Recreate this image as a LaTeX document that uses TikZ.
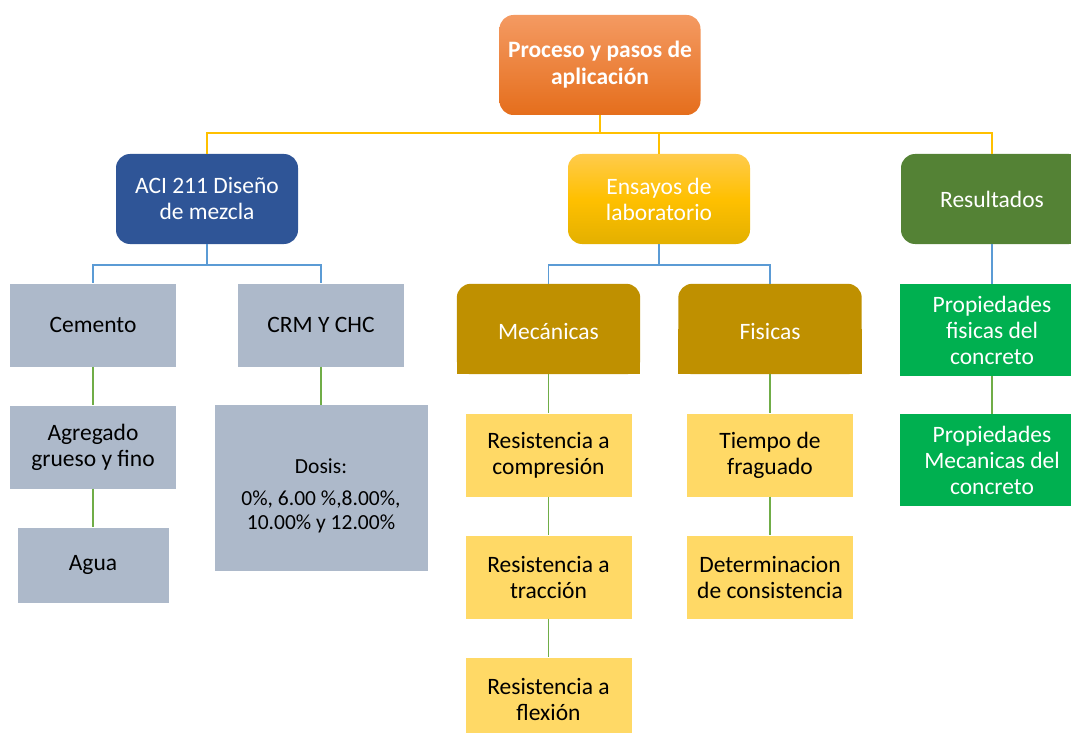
\documentclass[tikz,border=0pt]{standalone}
\usepackage{fontspec}
\setmainfont{Carlito}
\usetikzlibrary{backgrounds}

\definecolor{orangetop}{HTML}{F49A62}
\definecolor{orangebot}{HTML}{E56E1C}
\definecolor{darkblue}{HTML}{2F5597}
\definecolor{goldtop}{HTML}{FFCB4C}
\definecolor{goldmid}{HTML}{FFC000}
\definecolor{goldbot}{HTML}{E3B000}
\definecolor{olive}{HTML}{548235}
\definecolor{darkgold}{HTML}{BF9000}
\definecolor{grayblue}{HTML}{ADB9CA}
\definecolor{lightyellow}{HTML}{FFD966}
\definecolor{brightgreen}{HTML}{00B050}
\definecolor{lineyellow}{HTML}{FFC000}
\definecolor{lineblue}{HTML}{5B9BD5}
\definecolor{linegreen}{HTML}{70AD47}

\tikzstyle{rootbox} = [rectangle, rounded corners=14pt, minimum width=201pt, minimum height=100pt, align=center, text=white, font=\bfseries\fontsize{23.5}{27}\selectfont, top color=orangetop, bottom color=orangebot]
\tikzstyle{headbox} = [rectangle, rounded corners=14pt, minimum width=182pt, minimum height=90pt, align=center, text=white]
\tikzstyle{subbox} = [rectangle, minimum width=183pt, minimum height=90pt, align=center, text=white]
\tikzstyle{graybox} = [rectangle, minimum width=166pt, minimum height=83pt, align=center, fill=grayblue]
\tikzstyle{yellowbox} = [rectangle, minimum width=166pt, minimum height=83pt, align=center, fill=lightyellow]
\tikzstyle{greenbox} = [rectangle, minimum width=184pt, minimum height=92pt, align=center, text=white, fill=brightgreen]
\tikzstyle{yline} = [line width=1.5pt, draw=lineyellow]
\tikzstyle{bline} = [line width=1.5pt, draw=lineblue]
\tikzstyle{gline} = [line width=1.5pt, draw=linegreen]

\begin{document}
\begin{tikzpicture}[x=1pt, y=-1pt, node distance=122pt, every node/.style={font=\fontsize{23.5}{26}\selectfont}]
\useasboundingbox (0,0) rectangle (1071,733);

\node (proc) [rootbox] at (600,65) {Proceso y pasos de\\aplicación};

\node (aci) [headbox, fill=darkblue] at (207,199) {ACI 211 Diseño\\de mezcla};
\node (ens) [headbox, top color=goldtop, bottom color=goldbot, middle color=goldmid] at (659,199) {Ensayos de\\laboratorio};
\node (res) [headbox, fill=olive] at (992,199) {Resultados};

% diseño de mezcla
\node (cem) [graybox] at (93,325) {Cemento};
\node (agr) [graybox, below of=cem] {Agregado\\grueso y fino};
\node (agua) [graybox, below of=agr, yshift=4pt, minimum width=151pt, minimum height=75pt] {Agua};
\node (crm) [graybox] at (321,325) {CRM Y CHC};
\node (dosis) [graybox, below of=crm, yshift=-41pt, minimum width=213pt, minimum height=166pt, font=\fontsize{21.5}{24}\selectfont] {\rule{0pt}{31pt}Dosis:\\[8pt]0\%, 6.00 \%,8.00\%,\\10.00\% y 12.00\%};

% ensayos
\node (mec) [subbox] at (548.5,329) {\rule{0pt}{22pt}Mecánicas};
\node (fis) [subbox] at (770,329) {\rule{0pt}{22pt}Fisicas};
\node (comp) [yellowbox, below of=mec, yshift=-4pt] {Resistencia a\\compresión};
\node (tracc) [yellowbox, below of=comp] {Resistencia a\\tracción};
\node (flex) [yellowbox, below of=tracc] {Resistencia a\\flexión};
\node (tiempo) [yellowbox, below of=fis, yshift=-4pt] {Tiempo de\\fraguado};
\node (consis) [yellowbox, below of=tiempo] {Determinacion\\de consistencia};

% resultados
\node (propf) [greenbox] at (992,330) {Propiedades\\fisicas del\\concreto};
\node (propm) [greenbox, below of=propf, yshift=-8pt] {Propiedades\\Mecanicas del\\concreto};

\begin{scope}[on background layer]
\fill [darkgold, rounded corners=14pt] (mec.south west) rectangle (mec.north east);
\fill [darkgold] (mec.south west) rectangle (mec.east);
\fill [darkgold, rounded corners=14pt] (fis.south west) rectangle (fis.north east);
\fill [darkgold] (fis.south west) rectangle (fis.east);
\end{scope}

\draw [yline] (proc.south) -- ++(0,18) -| (aci.north);
\draw [yline] (proc.south) -- ++(0,18) -| (ens.north);
\draw [yline] (proc.south) -- ++(0,18) -| (res.north);

\draw [bline] (aci.south) -- ++(0,21) -| (cem.north);
\draw [bline] (aci.south) -- ++(0,21) -| (crm.north);
\draw [bline] (ens.south) -- ++(0,21) -| (mec.north);
\draw [bline] (ens.south) -- ++(0,21) -| (fis.north);
\draw [bline] (res.south) -- (propf.north);

\draw [gline] (cem.south) -- (agr.north);
\draw [gline] (agr.south) -- (agua.north);
\draw [gline] (crm.south) -- (dosis.north);
\draw [gline] (mec.south) -- (comp.north);
\draw [gline] (comp.south) -- (tracc.north);
\draw [gline] (tracc.south) -- (flex.north);
\draw [gline] (fis.south) -- (tiempo.north);
\draw [gline] (tiempo.south) -- (consis.north);
\draw [gline] (propf.south) -- (propm.north);
\end{tikzpicture}
\end{document}
